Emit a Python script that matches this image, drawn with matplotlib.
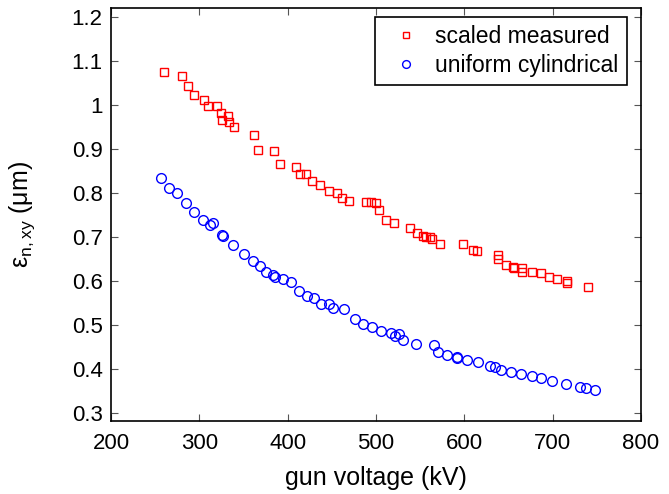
import numpy as np
import matplotlib
matplotlib.use("Agg")
import matplotlib.pyplot as plt

plt.rcParams['font.family'] = ['Liberation Sans', 'DejaVu Sans']
plt.rcParams['mathtext.default'] = 'regular'

# scaled measured (red squares)
meas_kv = [259.6, 280, 287.3, 294, 304.8, 310, 320, 325, 325.6, 332, 333.4, 338.7,
           362, 366.8, 384.8, 391, 409.5, 413.4, 420.7, 428, 436.7, 446.4, 455.6,
           461.4, 469, 488.6, 494.9, 499.7, 503.6, 511.3, 520, 538.5, 546.3, 553,
           556.5, 561.3, 563.7, 572.5, 598.6, 609.8, 614.6, 638.4, 638.4, 647.1,
           655.4, 656.4, 665, 665.6, 676.2, 686.9, 695.6, 705.3, 716, 716, 740.2]
meas_emit = [1.076, 1.066, 1.044, 1.023, 1.012, 0.997, 0.998, 0.981, 0.966, 0.975,
             0.962, 0.949, 0.931, 0.898, 0.896, 0.865, 0.860, 0.843, 0.843, 0.826,
             0.818, 0.804, 0.799, 0.788, 0.782, 0.779, 0.779, 0.776, 0.760, 0.738,
             0.731, 0.720, 0.708, 0.703, 0.699, 0.699, 0.696, 0.684, 0.684, 0.671,
             0.668, 0.658, 0.649, 0.636, 0.632, 0.628, 0.630, 0.620, 0.620, 0.617,
             0.609, 0.603, 0.599, 0.595, 0.586]

# uniform cylindrical (blue circles)
cyl_kv = [256.3, 266, 274.7, 284.4, 293.6, 304.3, 312.5, 315.9, 325.6, 327, 337.7,
          350.3, 361, 368.8, 376, 383.3, 385.2, 395, 404.2, 412.9, 422.1, 429.9,
          438.1, 446.4, 451.2, 463.3, 475.9, 485.6, 495.8, 505.5, 516.7, 522, 525.9,
          530.3, 544.8, 565.2, 570.5, 580.2, 591.4, 592.3, 603.5, 615.6, 629.2, 635,
          641.3, 652.5, 664.1, 676.2, 687.4, 699.5, 715.5, 731, 738.3, 748.5]
cyl_emit = [0.833, 0.812, 0.800, 0.776, 0.756, 0.739, 0.728, 0.732, 0.704, 0.702,
            0.681, 0.662, 0.646, 0.633, 0.621, 0.613, 0.608, 0.605, 0.598, 0.577,
            0.565, 0.560, 0.548, 0.547, 0.539, 0.535, 0.513, 0.501, 0.494, 0.485,
            0.482, 0.474, 0.479, 0.465, 0.457, 0.454, 0.438, 0.431, 0.427, 0.425,
            0.419, 0.415, 0.406, 0.403, 0.396, 0.393, 0.387, 0.383, 0.379, 0.371,
            0.364, 0.358, 0.356, 0.351]

fig = plt.figure(figsize=(6.69, 4.94), dpi=100)
ax = fig.add_axes([0.166, 0.148, 0.792, 0.835])

ax.plot(meas_kv, meas_emit, 's', mfc='none', mec='red', ms=6, mew=1.0,
        label='scaled measured')
ax.plot(cyl_kv, cyl_emit, 'o', mfc='none', mec='blue', ms=7, mew=1.0,
        label='uniform cylindrical')

ax.set_xlim(200, 800)
ax.set_ylim(0.281, 1.22)
ax.set_xticks(np.arange(200, 801, 100))
ax.set_yticks(np.arange(0.3, 1.21, 0.1))
ax.set_yticklabels(['0.3', '0.4', '0.5', '0.6', '0.7', '0.8', '0.9', '1', '1.1', '1.2'])
ax.tick_params(direction='in', top=True, right=True, labelsize=16, length=5,
               color='#555555')
ax.tick_params(axis='x', pad=9)
ax.tick_params(axis='y', pad=6)
for s in ax.spines.values():
    s.set_linewidth(1.2)

ax.set_xlabel('gun voltage (kV)', fontsize=18)
ax.set_ylabel(r'$\varepsilon_{n,xy}$ (μm)', fontsize=18)
ax.xaxis.set_label_coords(0.5, -0.11)
ax.yaxis.set_label_coords(-0.14, 0.5)

leg = ax.legend(loc='upper right', bbox_to_anchor=(0.973, 0.979), borderaxespad=0,
                fontsize=16.5, fancybox=False, framealpha=1, edgecolor='black',
                handlelength=2.0, handletextpad=0.3, borderpad=0.35,
                labelspacing=0.25, markerscale=0.8)
leg.get_frame().set_linewidth(1.2)

fig.savefig('out.png', dpi=100)
